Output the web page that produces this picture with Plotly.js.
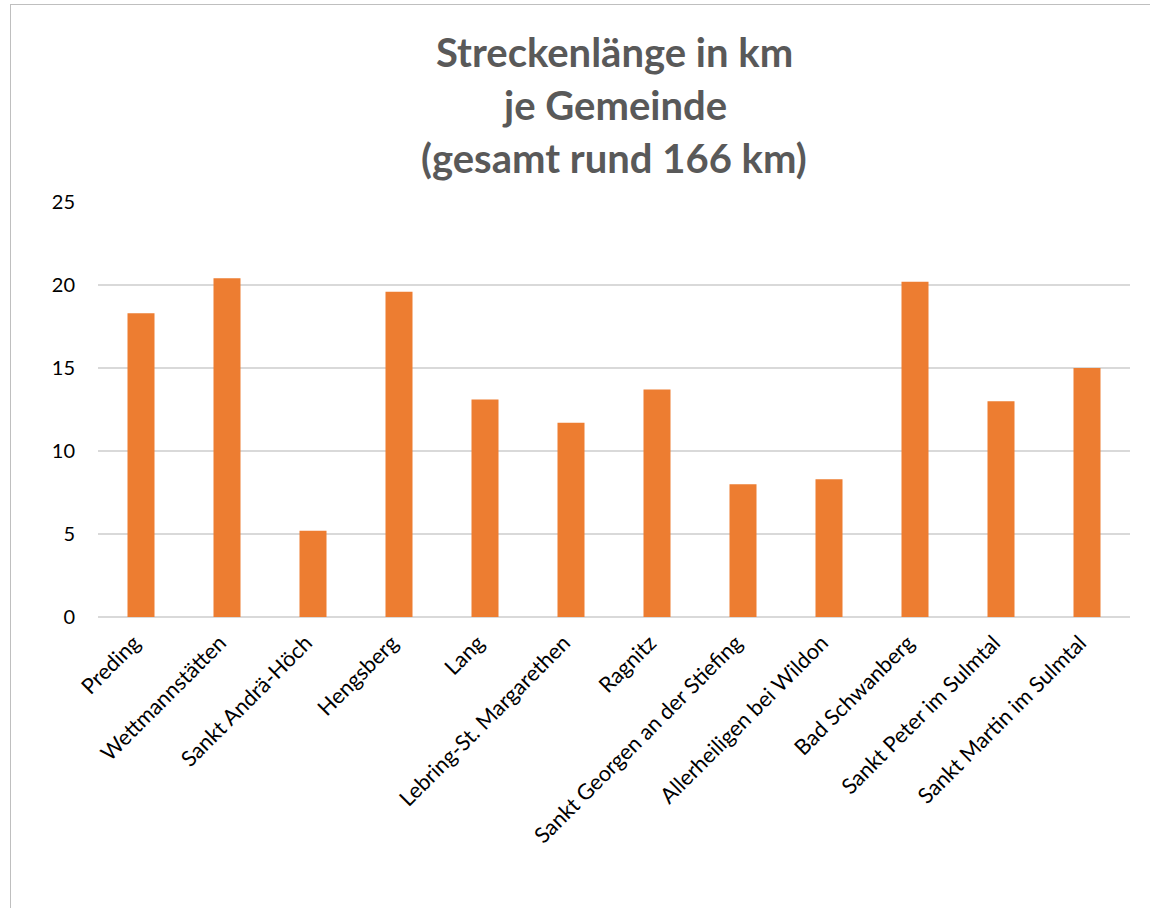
<!DOCTYPE html>
<html><head><meta charset="utf-8">
<script src="https://cdn.plot.ly/plotly-3.0.1.min.js"></script>
<style>
html,body{margin:0;padding:0;background:#fff;overflow:hidden;}
#chart{width:1150px;height:908px;position:absolute;left:0;top:0;}
#frame{position:absolute;left:10px;top:4px;width:1200px;height:1000px;border:1.5px solid #bfbfbf;pointer-events:none;box-sizing:border-box;}
</style></head>
<body>
<div id="chart"></div>
<div id="frame"></div>
<script>
const gemeinden = ["Preding","Wettmannstätten","Sankt Andrä-Höch","Hengsberg","Lang","Lebring-St. Margarethen","Ragnitz","Sankt Georgen an der Stiefing","Allerheiligen bei Wildon","Bad Schwanberg","Sankt Peter im Sulmtal","Sankt Martin im Sulmtal"];
const streckenKm = [18.3, 20.4, 5.2, 19.6, 13.1, 11.7, 13.7, 8.0, 8.3, 20.2, 13.0, 15.0];
const yTicks = [0,5,10,15,20,25];
const titleLines = ["Streckenlänge in km","je Gemeinde","(gesamt rund 166 km)"];
const titleLineY = [1.362, 1.234, 1.106];

const titleFont = {family:'Lato, Open Sans, sans-serif', size:40, color:'#595959', weight:'bold'};

Plotly.newPlot('chart', [{
  type:'bar', x:gemeinden, y:streckenKm,
  marker:{color:'#ED7D31'}, hoverinfo:'x+y'
}], {
  width:1150, height:908,
  margin:{l:98, r:20, t:202, b:291},
  paper_bgcolor:'#fff', plot_bgcolor:'#fff',
  bargap:0.686,
  showlegend:false,
  annotations: titleLines.map((t,i)=>({text:t, xref:'paper', yref:'paper', x:0.5, y:titleLineY[i], xanchor:'center', yanchor:'middle', showarrow:false, font:titleFont})),
  xaxis:{tickangle:-45, tickfont:{family:'Lato, sans-serif', size:21.7, color:'#000'}, showgrid:false, showline:false, ticks:'', ticklabelstandoff:8, ticklabelshift:-7, automargin:false},
  yaxis:{range:[0,25], tickvals:yTicks, ticktext:yTicks.map(String), tickfont:{family:'Lato, sans-serif', size:20, color:'#000'}, gridcolor:'#d9d9d9', gridwidth:1.3, zeroline:true, zerolinecolor:'#d9d9d9', zerolinewidth:1.5, showline:false, ticks:'', ticklabelstandoff:22, automargin:false}
}, {displayModeBar:false, staticPlot:true});
</script>
</body></html>
